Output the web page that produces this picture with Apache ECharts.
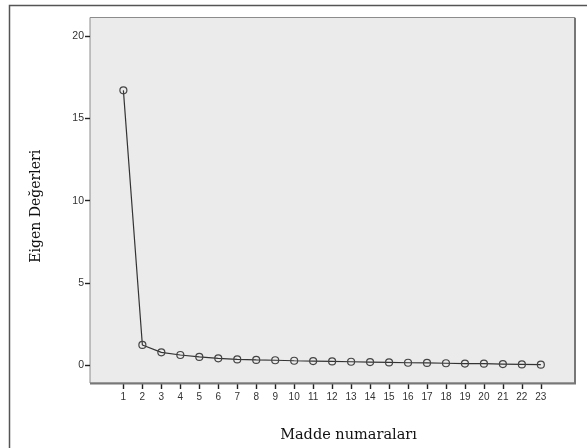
<!DOCTYPE html>
<html>
<head>
<meta charset="utf-8">
<script src="https://cdn.jsdelivr.net/npm/echarts@6/dist/echarts.min.js"></script>
<style>
html,body{margin:0;padding:0;background:#fff;}
#c{width:587px;height:448px;}
</style>
</head>
<body>
<div id="c"></div>
<script>
const items = [1,2,3,4,5,6,7,8,9,10,11,12,13,14,15,16,17,18,19,20,21,22,23];
const eigenValues = [16.7, 1.25, 0.80, 0.64, 0.52, 0.44, 0.37, 0.34, 0.32, 0.29, 0.27, 0.25, 0.23, 0.21, 0.19, 0.17, 0.16, 0.14, 0.12, 0.11, 0.09, 0.07, 0.05];
const yTicks = [0, 5, 10, 15, 20];
const xTitle = 'Madde numaraları';
const yTitle = 'Eigen Değerleri';

const chart = echarts.init(document.getElementById('c'), null, {renderer: 'canvas'});
const data = items.map((x, i) => [x, eigenValues[i]]);
chart.setOption({
  animation: false,
  backgroundColor: '#fff',
  grid: {
    left: 90, top: 17.5, right: 12, bottom: 65,
    show: true, backgroundColor: '#ebebeb', borderColor: '#8c8c8c', borderWidth: 1
  },
  graphic: [
    {type: 'rect', shape: {x: 9.5, y: 5.5, width: 700, height: 600}, style: {fill: 'none', stroke: '#555', lineWidth: 1.5}, z: 100},
    {type: 'line', shape: {x1: 575, y1: 18, x2: 575, y2: 383.5}, style: {stroke: '#777', lineWidth: 2}, z: 100},
    {type: 'line', shape: {x1: 90, y1: 383.5, x2: 576, y2: 383.5}, style: {stroke: '#777', lineWidth: 2}, z: 100}
  ],
  xAxis: {
    type: 'value', min: -0.76, max: 24.8,
    name: xTitle, nameLocation: 'middle', nameGap: 45,
    nameTextStyle: {fontFamily: 'DejaVu Serif', fontSize: 14.5, color: '#111', padding: [0, 0, 0, 32]},
    axisLine: {show: false, onZero: false},
    splitLine: {show: false},
    axisTick: {show: true, length: 6, customValues: items, lineStyle: {color: '#222', width: 1.4}},
    axisLabel: {customValues: items, margin: 9, fontFamily: 'Liberation Sans', fontSize: 10, color: '#333'}
  },
  yAxis: {
    type: 'value', min: -1.06, max: 21.12,
    name: yTitle, nameLocation: 'middle', nameGap: 47, nameRotate: 90,
    nameTextStyle: {fontFamily: 'DejaVu Serif', fontSize: 14, color: '#111', padding: [0, 12, 0, 0]},
    axisLine: {show: false, onZero: false},
    splitLine: {show: false},
    axisTick: {show: true, length: 5, customValues: yTicks, lineStyle: {color: '#222', width: 1.4}},
    axisLabel: {customValues: yTicks, margin: 6, fontFamily: 'Liberation Sans', fontSize: 10.5, color: '#333'}
  },
  series: [{
    type: 'line',
    data: data,
    symbol: 'circle',
    symbolSize: 7,
    lineStyle: {color: '#333', width: 1.2},
    itemStyle: {color: 'rgba(0,0,0,0)', borderColor: '#444', borderWidth: 1.2},
    emphasis: {disabled: true}
  }]
});
</script>
</body>
</html>
